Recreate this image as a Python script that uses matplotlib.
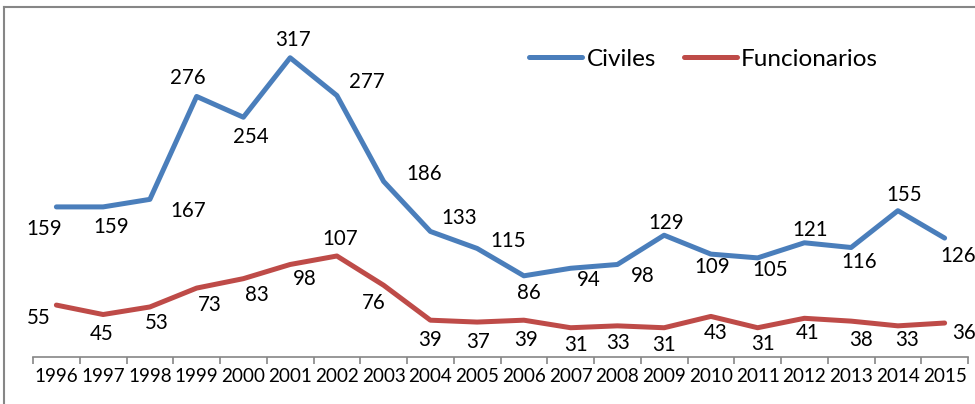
import matplotlib
matplotlib.use("Agg")
import matplotlib.pyplot as plt
from matplotlib.lines import Line2D

plt.rcParams['font.family'] = ['Lato', 'DejaVu Sans']

# data
years = [str(y) for y in range(1996, 2016)]
civiles = [159, 159, 167, 276, 254, 317, 277, 186, 133, 115,
           86, 94, 98, 129, 109, 105, 121, 116, 155, 126]
funcionarios = [55, 45, 53, 73, 83, 98, 107, 76, 39, 37,
                39, 31, 33, 31, 43, 31, 41, 38, 33, 36]

# label offsets in pixels (dx, dy down)
off_civ = [(-12, 22), (8, 20), (38, 12), (-9, -18), (7, 20), (3, -18), (30, -14),
           (41, -7), (29, -13), (31, -7), (5, 17), (18, 12), (25, 12), (2, -12),
           (1, 13), (13, 12), (6, -13), (8, 15), (6, -16), (14, 18)]
off_fun = [(-18, 13), (-1, 19), (7, 16), (13, 17), (13, 16), (15, 15), (3, -17),
           (-10, 18), (0, 20), (1, 20), (2, 20), (5, 17), (1, 17), (0, 17),
           (5, 17), (5, 16), (3, 15), (10, 19), (9, 14), (19, 10)]

blue = '#4A7EBB'
red = '#BE4B48'
grey = '#868686'

fig = plt.figure(figsize=(9.75, 4.04), dpi=100)
ax = fig.add_axes([33/975, 47/404, 935/975, 337/404])

x = range(len(years))
ax.plot(x, civiles, color=blue, lw=3.6, solid_capstyle='round', label='Civiles')
ax.plot(x, funcionarios, color=red, lw=3.6, solid_capstyle='round', label='Funcionarios')

for i, v in enumerate(civiles):
    dx, dy = off_civ[i]
    ax.annotate(str(v), (i, v), xytext=(dx, -dy), textcoords='offset pixels',
                ha='center', va='center', fontsize=14.8, color='black')
for i, v in enumerate(funcionarios):
    dx, dy = off_fun[i]
    ax.annotate(str(v), (i, v), xytext=(dx, -dy), textcoords='offset pixels',
                ha='center', va='center', fontsize=14.8, color='black')

ax.set_xlim(-0.5, len(years) - 0.5)
ax.set_ylim(0, 357)
ax.set_xticks([i - 0.5 for i in range(len(years) + 1)])
ax.set_xticklabels([])
ax.set_xticks(list(x), minor=True)
ax.set_xticklabels(years, minor=True, fontsize=13.6)
ax.tick_params(axis='x', which='major', length=5, color=grey, width=1.2, direction='out')
ax.tick_params(axis='x', which='minor', length=0, pad=8)
ax.set_yticks([])
for s in ['top', 'right', 'left']:
    ax.spines[s].set_visible(False)
ax.spines['bottom'].set_color(grey)
ax.spines['bottom'].set_linewidth(1.2)

ax.legend(loc='center left', bbox_to_anchor=(0.5305, 0.884), ncol=2, frameon=False,
          fontsize=17.5, handlelength=2.2, handletextpad=0.16, columnspacing=1.15,
          borderaxespad=0, borderpad=0)

# outer chart frame (only left and top edges are inside the picture)
fig.add_artist(Line2D([4/975, 4/975], [0, 1 - 7/404], color=grey, lw=1.5))
fig.add_artist(Line2D([4/975, 1], [1 - 7/404, 1 - 7/404], color=grey, lw=1.5))

fig.savefig('out.png', dpi=100)
